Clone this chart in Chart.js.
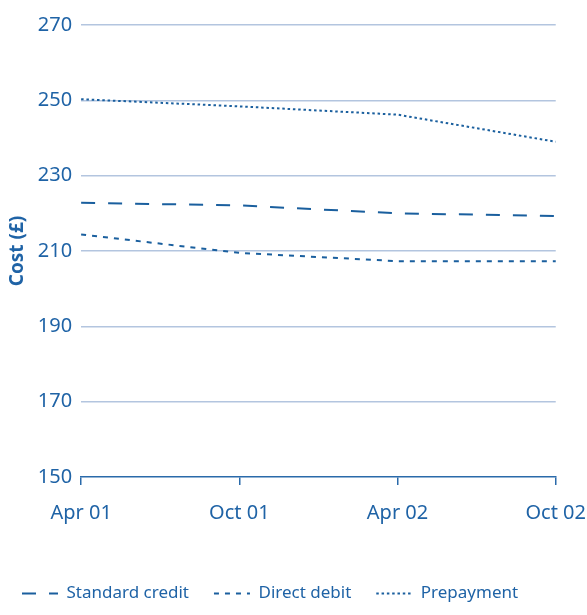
<!DOCTYPE html>
<html lang="en">
<head>
    <meta charset="UTF-8">
    <title>Cost by payment method</title>
    <style>
        body {
            margin: 0;
            background: #ffffff;
        }
        #chartContainer {
            width: 587px;
            height: 615px;
        }
    </style>
    <script src="https://cdn.jsdelivr.net/npm/chart.js"></script>
</head>
<body>

<div id="chartContainer">
    <canvas id="myChart"></canvas>
</div>

<script>
    const periods = ['Apr 01', 'Oct 01', 'Apr 02', 'Oct 02'];
    const standardCredit = [222.8, 222.1, 220.0, 219.3];
    const directDebit = [214.4, 209.5, 207.3, 207.3];
    const prepayment = [250.3, 248.4, 246.2, 239.0];
    const yTicks = [150, 170, 190, 210, 230, 250, 270];

    const textColor = '#1f63a6';
    const lineColor = '#1a5f9e';
    const gridColor = '#b3c5df';
    const fontFamily = '"Noto Sans", Arial, sans-serif';

    const ctx = document.getElementById('myChart').getContext('2d');

    function series(label, values, dash, width) {
        return {
            label: label,
            data: values,
            borderColor: lineColor,
            backgroundColor: lineColor,
            borderWidth: width,
            borderDash: dash,
            pointRadius: 0,
            pointStyle: 'line',
            tension: 0,
            fill: false
        };
    }

    new Chart(ctx, {
        type: 'line',
        data: {
            labels: periods,
            datasets: [
                series('Standard credit', standardCredit, [14, 13], 2),
                series('Direct debit', directDebit, [5, 6], 2),
                series('Prepayment', prepayment, [2.5, 2.8], 2)
            ]
        },
        options: {
            responsive: true,
            maintainAspectRatio: false,
            animation: false,
            layout: {
                padding: { top: 25, right: 0, bottom: 3, left: -3 }
            },
            plugins: {
                tooltip: { enabled: false },
                legend: {
                    position: 'bottom',
                    align: 'start',
                    labels: {
                        usePointStyle: true,
                        pointStyleWidth: 36,
                        boxHeight: 2,
                        padding: 25,
                        color: textColor,
                        font: { family: fontFamily, size: 17 },
                        generateLabels: (chart) => {
                            const items = Chart.defaults.plugins.legend.labels.generateLabels(chart);
                            return items.map((item, i) => {
                                item.lineDash = chart.data.datasets[i].borderDash;
                                item.lineWidth = 2;
                                item.strokeStyle = lineColor;
                                return item;
                            });
                        }
                    }
                }
            },
            scales: {
                x: {
                    offset: false,
                    border: { display: true, color: '#2a6aaa', width: 1.5 },
                    grid: {
                        drawOnChartArea: false,
                        drawTicks: true,
                        tickLength: 8,
                        color: '#2a6aaa',
                        lineWidth: 1.5
                    },
                    ticks: {
                        color: textColor,
                        padding: 1,
                        maxRotation: 0,
                        font: { family: fontFamily, size: 20, lineHeight: 2.7 }
                    },
                    afterFit: (scale) => { scale.height = 83; }
                },
                y: {
                    min: 150,
                    max: 270,
                    afterBuildTicks: (scale) => {
                        scale.ticks = yTicks.map(v => ({ value: v }));
                    },
                    border: { display: false },
                    grid: {
                        drawTicks: false,
                        lineWidth: 1.5,
                        color: (c) => c.tick && c.tick.value === 150 ? 'rgba(0,0,0,0)' : gridColor
                    },
                    ticks: {
                        color: textColor,
                        padding: 9,
                        font: { family: fontFamily, size: 20 }
                    },
                    title: {
                        display: true,
                        text: 'Cost (£)',
                        color: textColor,
                        padding: { top: 9, bottom: 0 },
                        font: { family: fontFamily, size: 19, weight: 'bold' }
                    }
                }
            }
        }
    });
</script>

</body>
</html>
